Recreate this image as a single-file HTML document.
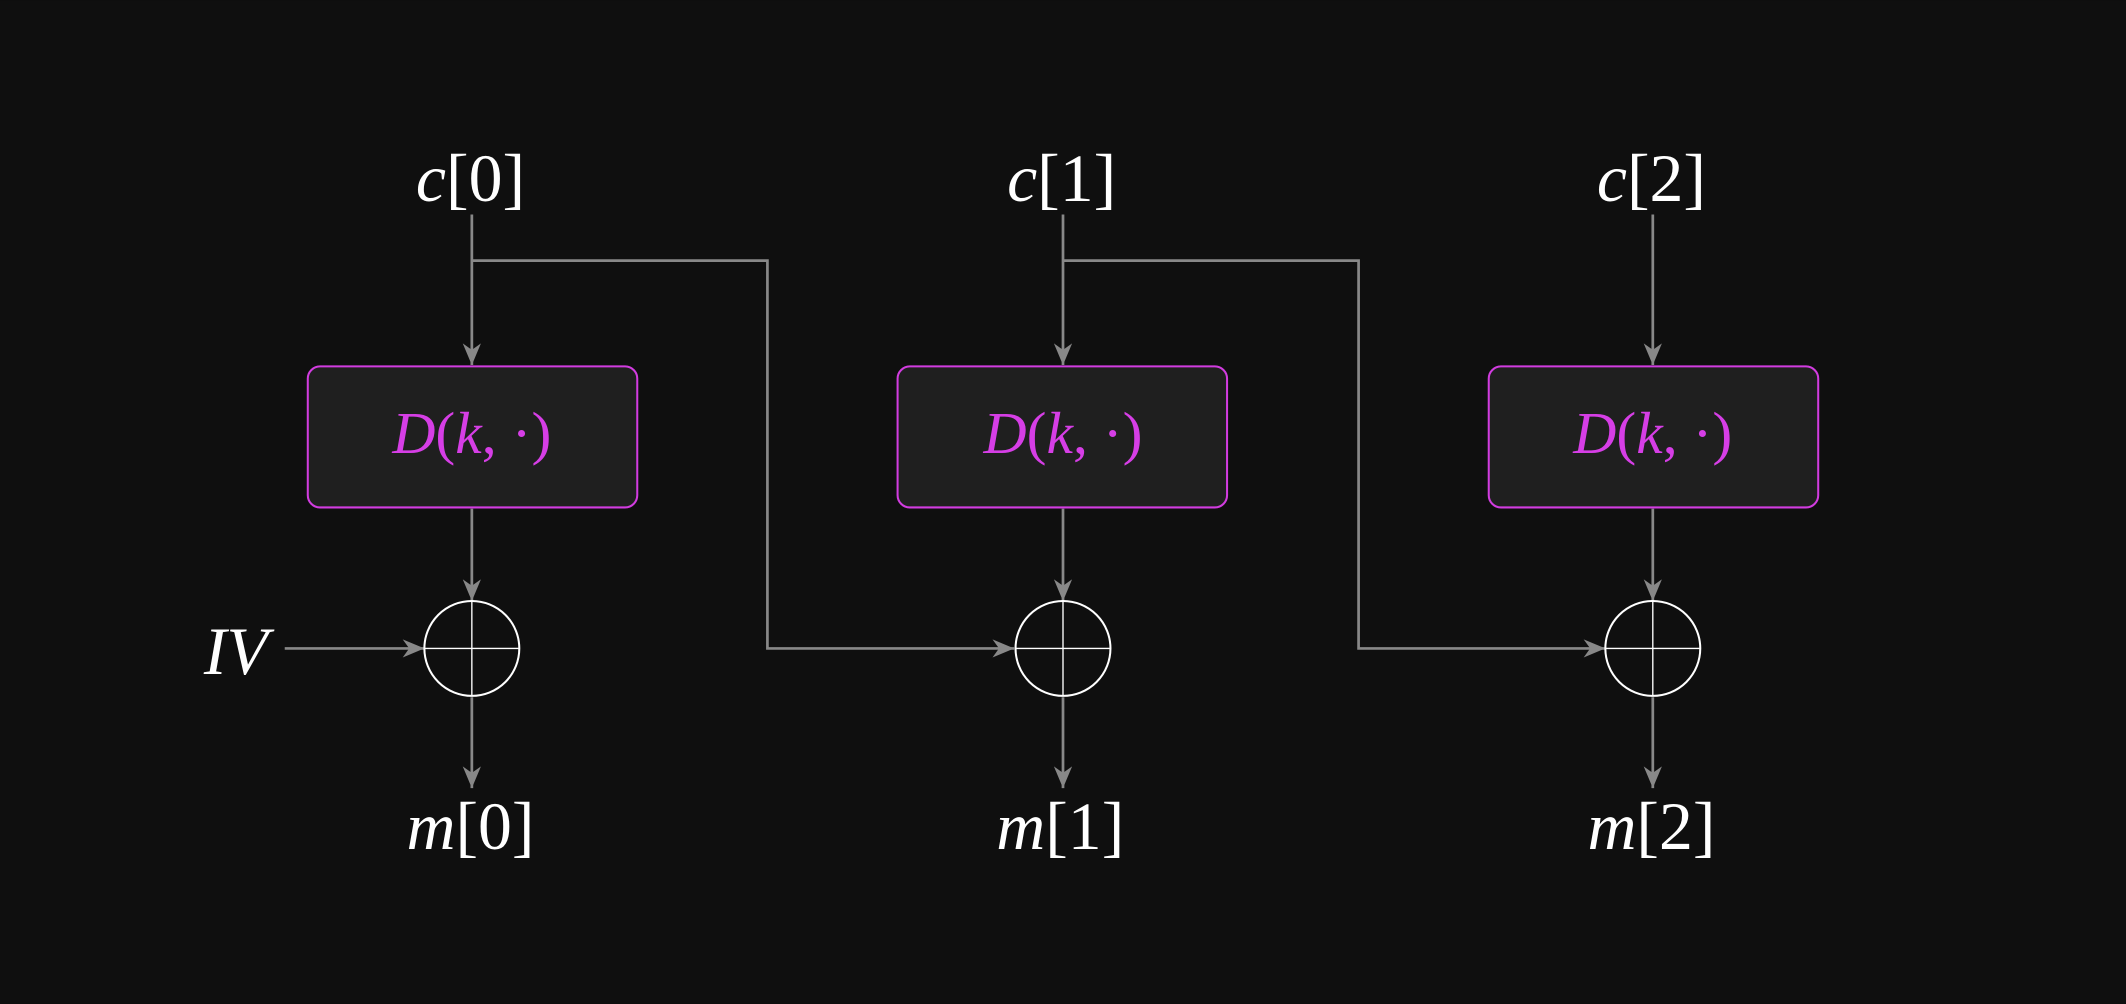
<!DOCTYPE html>
<html><head><meta charset="utf-8"><style>
html,body{margin:0;padding:0;background:#0f0f0f;}
svg{display:block;}
text{font-family:"Liberation Serif","DejaVu Serif",serif;}
</style></head><body>
<svg width="2126" height="1004" viewBox="0 0 1568 740" xmlns="http://www.w3.org/2000/svg">
<defs>
<marker id="a" viewBox="0 0 10 10" refX="10" refY="5" markerWidth="16" markerHeight="16" markerUnits="userSpaceOnUse" orient="auto">
<path d="M0,0.8 L10,5 L0,9.2 L3,5 Z" fill="#888"/>
</marker>
</defs>
<rect width="1568" height="740" fill="#0f0f0f"/>
<g stroke="#888" stroke-width="2" fill="none">
<line x1="348" y1="158" x2="348" y2="269" marker-end="url(#a)"/>
<polyline points="348,192 566,192 566,478 748,478" marker-end="url(#a)"/>
<line x1="348" y1="375" x2="348" y2="443" marker-end="url(#a)"/>
<line x1="348" y1="514" x2="348" y2="581" marker-end="url(#a)"/>
<line x1="210" y1="478" x2="313" y2="478" marker-end="url(#a)"/>
<line x1="784" y1="158" x2="784" y2="269" marker-end="url(#a)"/>
<polyline points="784,192 1002,192 1002,478 1184,478" marker-end="url(#a)"/>
<line x1="784" y1="375" x2="784" y2="443" marker-end="url(#a)"/>
<line x1="784" y1="514" x2="784" y2="581" marker-end="url(#a)"/>
<line x1="1219" y1="158" x2="1219" y2="269" marker-end="url(#a)"/>
<line x1="1219" y1="375" x2="1219" y2="443" marker-end="url(#a)"/>
<line x1="1219" y1="514" x2="1219" y2="581" marker-end="url(#a)"/>
</g>
<g fill="#1f1f1f" stroke="#d23ce0" stroke-width="1.5">
<rect x="227" y="270" width="243" height="104" rx="9"/>
<rect x="662" y="270" width="243" height="104" rx="9"/>
<rect x="1098" y="270" width="243" height="104" rx="9"/>
</g>
<g fill="#d63ee6" font-size="44" text-anchor="middle">
<text x="348" y="334"><tspan font-style="italic">D</tspan>(<tspan font-style="italic">k</tspan>, ·)</text>
<text x="784" y="334"><tspan font-style="italic">D</tspan>(<tspan font-style="italic">k</tspan>, ·)</text>
<text x="1219" y="334"><tspan font-style="italic">D</tspan>(<tspan font-style="italic">k</tspan>, ·)</text>
</g>
<g stroke="#fff" stroke-width="1.5" fill="none">
<circle cx="348" cy="478" r="35"/>
<circle cx="784" cy="478" r="35"/>
<circle cx="1219" cy="478" r="35"/>
</g>
<g stroke="#fff" stroke-width="1" fill="none">
<line x1="313" y1="478" x2="383" y2="478"/><line x1="348" y1="443" x2="348" y2="513"/>
<line x1="749" y1="478" x2="819" y2="478"/><line x1="784" y1="443" x2="784" y2="513"/>
<line x1="1184" y1="478" x2="1254" y2="478"/><line x1="1219" y1="443" x2="1219" y2="513"/>
</g>
<g fill="#fff" font-size="50" text-anchor="middle">
<text x="347" y="148"><tspan font-style="italic">c</tspan>[0]</text>
<text x="783" y="148"><tspan font-style="italic">c</tspan>[1]</text>
<text x="1218" y="148"><tspan font-style="italic">c</tspan>[2]</text>
<text x="347" y="626"><tspan font-style="italic">m</tspan>[0]</text>
<text x="782" y="626"><tspan font-style="italic">m</tspan>[1]</text>
<text x="1218" y="626"><tspan font-style="italic">m</tspan>[2]</text>
<text x="174" y="497" font-style="italic">IV</text>
</g>
</svg>
</body></html>
